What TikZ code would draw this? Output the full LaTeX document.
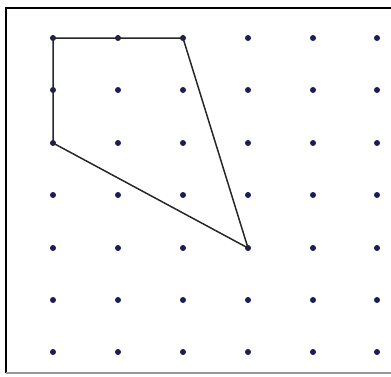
\documentclass[tikz,border=0pt]{standalone}
\definecolor{dotblue}{HTML}{1C1C5A}
\tikzset{
  gdot/.style={circle,fill=dotblue,inner sep=0pt,minimum size=6pt},
  edge/.style={draw=black!85,line width=1.5pt},
  frame/.style={line width=2.2pt,draw=black}
}
\begin{document}
\begin{tikzpicture}[x=1pt,y=-1pt]
\useasboundingbox (0,0) rectangle (391,376);
\draw[frame] (391,8) -- (6,8) -- (6,373);
\draw[line width=2pt,draw=black!40] (6,373) -- (391,373);
\foreach \c [count=\i] in {53,118,183,248,313,377}{
  \foreach \r [count=\j] in {38,90,143,195,248,300,352}{
    \node[gdot] (d\i-\j) at (\c,\r) {};
  }
}
\draw[edge,line join=round] (d1-1.center) -- (d3-1.center) -- (d4-5.center) -- (d1-3.center) -- cycle;
\end{tikzpicture}
\end{document}
